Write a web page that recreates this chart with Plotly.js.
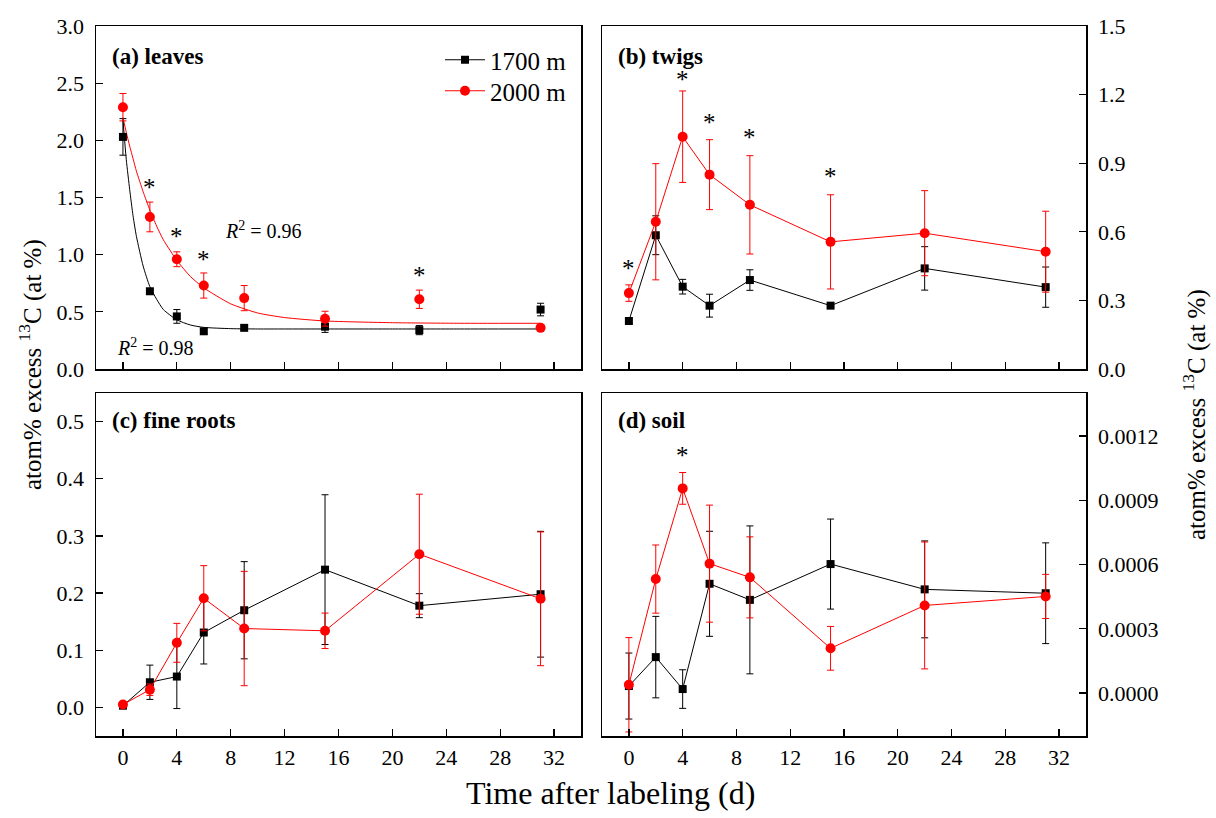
<!DOCTYPE html>
<html><head><meta charset="utf-8">
<script src="https://cdn.plot.ly/plotly-3.0.1.min.js"></script>
<style>html,body{margin:0;padding:0;background:#fff}#chart{width:1216px;height:818px}</style>
</head><body><div id="chart"></div>
<script>
// ---- data ----
const days = [0, 2, 4, 6, 9, 15, 22, 31];
const seriesNames = ['1700 m', '2000 m'];

// (a) leaves
const leaves1700 = [2.03, 0.68, 0.46, 0.33, 0.36, 0.37, 0.34, 0.52];
const leaves1700Err = [0.16, 0.02, 0.06, 0.02, 0.015, 0.05, 0.04, 0.055];
const leaves2000 = [2.29, 1.33, 0.96, 0.73, 0.62, 0.44, 0.61, 0.36];
const leaves2000Err = [0.12, 0.13, 0.065, 0.11, 0.11, 0.065, 0.08, 0.015];
// fitted decay curves
const fitDays = [0, 0.25, 0.5, 0.75, 1, 1.5, 2, 2.5, 3, 4, 5, 6, 8, 10, 12, 15, 20, 25, 31];
const fit1700 = [2.18, 1.83, 1.57, 1.34, 1.16, 0.90, 0.72, 0.61, 0.52, 0.43, 0.385, 0.364, 0.353, 0.35, 0.35, 0.35, 0.35, 0.35, 0.35];
const fit2000 = [2.20, 2.07, 1.95, 1.84, 1.73, 1.55, 1.39, 1.25, 1.13, 0.95, 0.81, 0.71, 0.57, 0.49, 0.45, 0.42, 0.405, 0.40, 0.40];
const r2Values = ['0.98', '0.96'];

// (b) twigs
const twigs1700 = [0.21, 0.585, 0.36, 0.277, 0.389, 0.277, 0.44, 0.358];
const twigs1700Err = [0.01, 0.085, 0.032, 0.05, 0.045, 0.012, 0.095, 0.088];
const twigs2000 = [0.332, 0.644, 1.016, 0.85, 0.718, 0.556, 0.594, 0.513];
const twigs2000Err = [0.036, 0.254, 0.2, 0.153, 0.215, 0.206, 0.186, 0.177];

// (c) fine roots
const roots1700 = [0.003, 0.044, 0.054, 0.131, 0.17, 0.241, 0.178, 0.198];
const roots1700Err = [0.003, 0.03, 0.056, 0.055, 0.085, 0.131, 0.021, 0.11];
const roots2000 = [0.005, 0.031, 0.113, 0.191, 0.138, 0.134, 0.268, 0.19];
const roots2000Err = [0.003, 0.01, 0.034, 0.057, 0.1, 0.031, 0.105, 0.117];

// (d) soil
const soil1700 = [0.000033, 0.000168, 0.000019, 0.00051, 0.000435, 0.000602, 0.000484, 0.000466];
const soil1700Err = [0.000154, 0.00019, 0.00009, 0.000245, 0.000345, 0.00021, 0.000226, 0.000235];
const soil2000 = [0.000039, 0.000532, 0.000955, 0.000604, 0.00054, 0.000209, 0.000409, 0.000451];
const soil2000Err = [0.00022, 0.000159, 0.000074, 0.000273, 0.000189, 0.000102, 0.000296, 0.000103];

// significance asterisks (day, height)
const starA_x = [2, 4, 6, 22];
const starA_y = [1.63, 1.20, 1.00, 0.86];
const starB_x = [0, 4, 6, 9, 15];
const starB_y = [0.46, 1.29, 1.10, 1.034, 0.862];
const starD_x = [4];
const starD_y = [0.00113];

const panelLabels = ['(a) leaves', '(b) twigs', '(c) fine roots', '(d) soil'];
const xTicks = [0, 4, 8, 12, 16, 20, 24, 28, 32];

// ---- styling ----
const FONT = 'Liberation Serif';
const BLACK = '#000000', RED = '#ff0000', TXT = '#000000';

function dataTrace(x, y, err, color, sym, size, xa, ya, mode, name, showleg, leg) {
  const t = {
    x: x, y: y, type: 'scatter', mode: mode, name: name, showlegend: showleg,
    xaxis: xa, yaxis: ya,
    line: {color: color, width: 1},
    marker: {color: color, symbol: sym, size: size},
    error_y: {type: 'data', array: err, visible: true, color: color, thickness: 1, width: 3.5}
  };
  if (leg) t.legend = leg;
  return t;
}

const traces = [
  // (a)
  {x: fitDays, y: fit1700, type: 'scatter', mode: 'lines', line: {color: BLACK, width: 1, shape: 'spline', smoothing: 0.6}, showlegend: false, xaxis: 'x', yaxis: 'y', hoverinfo: 'skip'},
  {x: fitDays, y: fit2000, type: 'scatter', mode: 'lines', line: {color: RED, width: 1, shape: 'spline', smoothing: 0.6}, showlegend: false, xaxis: 'x', yaxis: 'y', hoverinfo: 'skip'},
  dataTrace(days, leaves1700, leaves1700Err, BLACK, 'square', 8, 'x', 'y', 'markers', seriesNames[0], false),
  dataTrace(days, leaves2000, leaves2000Err, RED, 'circle', 10, 'x', 'y', 'markers', seriesNames[1], false),
  // (b)
  dataTrace(days, twigs1700, twigs1700Err, BLACK, 'square', 8, 'x2', 'y2', 'lines+markers', seriesNames[0], true, 'legend'),
  dataTrace(days, twigs2000, twigs2000Err, RED, 'circle', 10, 'x2', 'y2', 'lines+markers', seriesNames[1], true, 'legend2'),
  // (c)
  dataTrace(days, roots1700, roots1700Err, BLACK, 'square', 8, 'x3', 'y3', 'lines+markers', seriesNames[0], false),
  dataTrace(days, roots2000, roots2000Err, RED, 'circle', 10, 'x3', 'y3', 'lines+markers', seriesNames[1], false),
  // (d)
  dataTrace(days, soil1700, soil1700Err, BLACK, 'square', 8, 'x4', 'y4', 'lines+markers', seriesNames[0], false),
  dataTrace(days, soil2000, soil2000Err, RED, 'circle', 10, 'x4', 'y4', 'lines+markers', seriesNames[1], false)
];

const W = 1216, H = 818;
const domL = [96 / W, 581 / W], domR = [602 / W, 1086 / W];
const domT = [1 - 369 / H, 1 - 26 / H], domB = [1 - 736 / H, 1 - 393 / H];

function xAxis(domain, anchor, labels) {
  return {
    domain: domain, anchor: anchor, range: [-2, 34],
    tickmode: 'array', tickvals: xTicks, ticktext: xTicks.map(String),
    showticklabels: labels, ticks: 'inside', ticklen: 7, tickwidth: 1.3, tickcolor: BLACK,
    showline: true, mirror: true, linecolor: BLACK, linewidth: 1.5,
    showgrid: false, zeroline: false,
    tickfont: {family: FONT, size: 22, color: TXT}, ticklabelstandoff: 1
  };
}
function yAxis(domain, anchor, range, dtick, fmt, side) {
  return {
    domain: domain, anchor: anchor, range: range, side: side,
    tick0: 0, dtick: dtick, tickformat: fmt,
    ticks: 'inside', ticklen: 7, tickwidth: 1.3, tickcolor: BLACK,
    showline: true, mirror: true, linecolor: BLACK, linewidth: 1.5,
    showgrid: false, zeroline: false,
    tickfont: {family: FONT, size: 22, color: TXT}, ticklabelstandoff: 6
  };
}

const annotations = [];
function stars(xs, ys, xr, yr) {
  xs.forEach((d, i) => annotations.push({
    x: d, y: ys[i], xref: xr, yref: yr, text: '*', showarrow: false,
    xanchor: 'center', yanchor: 'middle', yshift: -5,
    font: {family: FONT, size: 25, color: TXT}
  }));
}
stars(starA_x, starA_y, 'x', 'y');
stars(starB_x, starB_y, 'x2', 'y2');
stars(starD_x, starD_y, 'x4', 'y4');

const labelPos = [['x domain', 'y domain'], ['x2 domain', 'y2 domain'], ['x3 domain', 'y3 domain'], ['x4 domain', 'y4 domain']];
panelLabels.forEach((t, i) => annotations.push({
  x: 0.029, y: i < 2 ? 0.91 : 0.921, xref: labelPos[i][0], yref: labelPos[i][1],
  text: '<b>' + t + '</b>', showarrow: false, xanchor: 'left', yanchor: 'middle',
  font: {family: FONT, size: 23, color: TXT}
}));

// R^2 labels
annotations.push({x: -0.62, y: 0.195, xref: 'x', yref: 'y', text: '<i>R</i><sup>2</sup> = ' + r2Values[0], showarrow: false,
  xanchor: 'left', yanchor: 'middle', font: {family: FONT, size: 20, color: TXT}});
annotations.push({x: 7.4, y: 1.22, xref: 'x', yref: 'y', text: '<i>R</i><sup>2</sup> = ' + r2Values[1], showarrow: false,
  xanchor: 'left', yanchor: 'middle', font: {family: FONT, size: 20, color: TXT}});

// axis titles
const yTitle = 'atom% excess <sup>13</sup>C (at %)';
annotations.push({x: 610 / W, y: 1 - 793 / H, xref: 'paper', yref: 'paper', text: 'Time after labeling (d)', showarrow: false,
  xanchor: 'center', yanchor: 'middle', font: {family: FONT, size: 32, color: TXT}});
annotations.push({x: 30 / W, y: 1 - 365 / H, xref: 'paper', yref: 'paper', text: yTitle, textangle: -90, showarrow: false,
  xanchor: 'center', yanchor: 'middle', font: {family: FONT, size: 25, color: TXT}});
annotations.push({x: 1194 / W, y: 1 - 415 / H, xref: 'paper', yref: 'paper', text: yTitle, textangle: -90, showarrow: false,
  xanchor: 'center', yanchor: 'middle', font: {family: FONT, size: 25, color: TXT}});

const legendStyle = (yTop) => ({x: 440 / W, y: 1 - yTop / H, xanchor: 'left', yanchor: 'top', bgcolor: 'rgba(0,0,0,0)',
  font: {family: FONT, size: 25, color: TXT}, itemwidth: 40});

const layout = {
  width: W, height: H, margin: {l: 0, r: 0, t: 0, b: 0},
  paper_bgcolor: '#fff', plot_bgcolor: '#fff',
  font: {family: FONT, color: TXT},
  xaxis: xAxis(domL, 'y', false), yaxis: yAxis(domT, 'x', [0, 3.0001], 0.5, '.1f', 'left'),
  xaxis2: xAxis(domR, 'y2', false), yaxis2: yAxis(domT, 'x2', [0, 1.5001], 0.3, '.1f', 'right'),
  xaxis3: xAxis(domL, 'y3', true), yaxis3: yAxis(domB, 'x3', [-0.05, 0.55], 0.1, '.1f', 'left'),
  xaxis4: xAxis(domR, 'y4', true), yaxis4: yAxis(domB, 'x4', [-0.0002, 0.0014], 0.0003, '.4f', 'right'),
  showlegend: true,
  legend: legendStyle(37),
  legend2: legendStyle(68),
  annotations: annotations
};

Plotly.newPlot('chart', traces, layout, {staticPlot: true, displayModeBar: false});
</script>
</body></html>
